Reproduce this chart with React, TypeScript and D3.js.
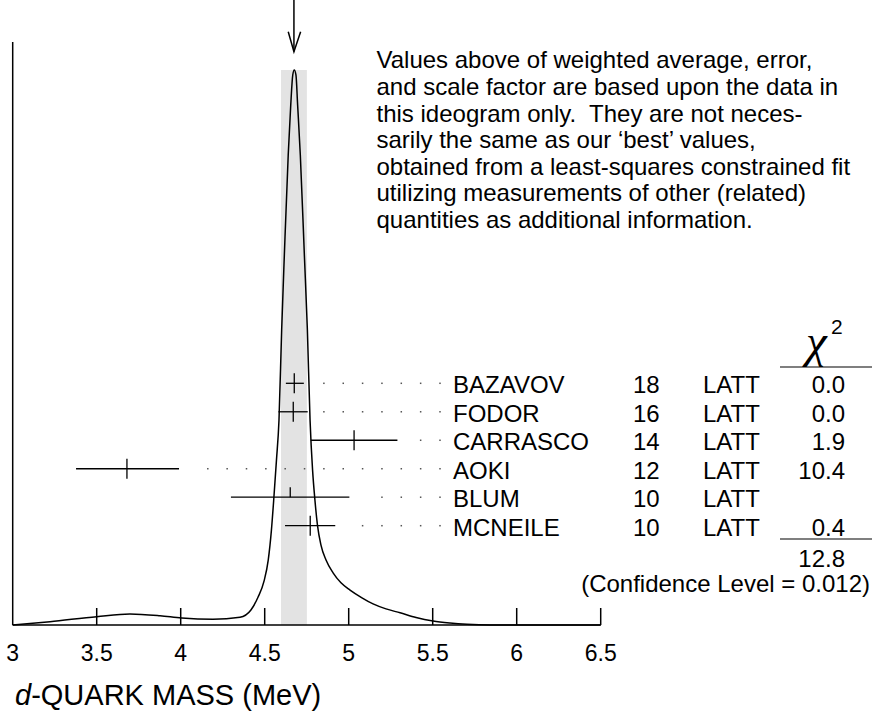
import React from 'react'
import * as d3 from 'd3'

// measurements (MeV)
const names = ['BAZAVOV', 'FODOR', 'CARRASCO', 'AOKI', 'BLUM', 'MCNEILE']
const years = ['18', '16', '14', '12', '10', '10']
const techs = ['LATT', 'LATT', 'LATT', 'LATT', 'LATT', 'LATT']
const values = [4.676, 4.670, 5.032, 3.680, 4.652, 4.771]
const errLow = [0.050, 0.088, 0.258, 0.303, 0.353, 0.150]
const errHigh = [0.057, 0.086, 0.258, 0.310, 0.352, 0.149]
const usedInFit = [true, true, true, true, false, true]
const chi2 = ['0.0', '0.0', '1.9', '10.4', '', '0.4']
const chi2Total = '12.8'
const confidence = '(Confidence Level = 0.012)'

// weighted average and its error (grey band), arrow position
const average = 4.674
const averageErr = 0.077

// ideogram curve (peak normalised to 1)
const curveX = [3.0, 3.222, 3.5, 3.698, 3.877, 4.006, 4.192, 4.353, 4.418, 4.46, 4.496, 4.521, 4.54, 4.555, 4.57, 4.585, 4.601, 4.617, 4.64, 4.655, 4.667, 4.676, 4.686, 4.696, 4.712, 4.736, 4.754, 4.77, 4.785, 4.799, 4.814, 4.835, 4.865, 4.907, 4.954, 5.008, 5.079, 5.145, 5.222, 5.306, 5.401, 5.502, 5.603, 5.704, 5.841, 6.5]
const curveY = [0, 0.006, 0.015, 0.0198, 0.0166, 0.0126, 0.0103, 0.0139, 0.027, 0.05, 0.079, 0.117, 0.171, 0.231, 0.297, 0.369, 0.532, 0.667, 0.847, 0.937, 0.991, 1.0, 0.991, 0.937, 0.847, 0.667, 0.532, 0.369, 0.279, 0.225, 0.18, 0.144, 0.117, 0.094, 0.076, 0.063, 0.049, 0.038, 0.029, 0.022, 0.0135, 0.0072, 0.0036, 0.0013, 0, 0]

const tickValues = [3, 3.5, 4, 4.5, 5, 5.5, 6, 6.5]
const tickLabels = ['3', '3.5', '4', '4.5', '5', '5.5', '6', '6.5']

const note = [
  'Values above of weighted average, error,',
  'and scale factor are based upon the data in',
  'this ideogram only.  They are not neces-',
  'sarily the same as our \u2018best\u2019 values,',
  'obtained from a least-squares constrained fit',
  'utilizing measurements of other (related)',
  'quantities as additional information.',
]

const font = '"Liberation Sans", Arial, sans-serif'

export default function App() {
  const width = 872
  const height = 727
  const x = d3.scaleLinear().domain([3, 6.5]).range([12.7, 600.7])
  const y = d3.scaleLinear().domain([0, 1]).range([625, 70])
  const row = d3.scaleLinear().domain([0, names.length - 1]).range([383.3, 525.7])

  const line = d3.line<number>()
    .x((d, i) => x(curveX[i]))
    .y((d) => y(d))
    .curve(d3.curveMonotoneX)

  const labelX = 453
  const lastDot = 440
  const dotStep = 19.35

  const dots = (i: number) => {
    const end = x(values[i] + errHigh[i])
    const out: number[] = []
    for (let k = 0; lastDot - k * dotStep > end + 14; k++) out.push(lastDot - k * dotStep)
    return out
  }

  const ax = x(average)

  return (
    <svg width={width} height={height} style={{ position: 'absolute', left: 0, top: 0, background: '#fff' }}>
      {/* grey band */}
      <rect x={x(average - averageErr)} y={y(1)} width={x(average + averageErr) - x(average - averageErr)} height={y(0) - y(1)} fill="#e3e3e3" />

      {/* arrow */}
      <g stroke="#000" strokeWidth={1.5} fill="none">
        <line x1={ax} x2={ax} y1={0} y2={51.5} />
        <polyline points={`${ax - 5.7},${31.7} ${ax},${51.7} ${ax + 6.7},${31.7}`} />
      </g>

      {/* axes */}
      <g stroke="#000" strokeWidth={1.5}>
        <line x1={x(3)} x2={x(3)} y1={42} y2={y(0)} />
        <line x1={x(3)} x2={x(6.5)} y1={y(0)} y2={y(0)} />
        {tickValues.slice(1).map((t) => (
          <line key={t} x1={x(t)} x2={x(t)} y1={y(0)} y2={y(0) - 17} />
        ))}
      </g>
      <g fontFamily={font} fontSize={23} textAnchor="middle">
        {tickValues.map((t, i) => (
          <text key={t} x={x(t)} y={661}>{tickLabels[i]}</text>
        ))}
      </g>
      <text x={15} y={705} fontFamily={font} fontSize={29}>
        <tspan fontStyle="italic">d</tspan>-QUARK MASS (MeV)
      </text>

      {/* ideogram */}
      <path d={line(curveY) || ''} fill="none" stroke="#000" strokeWidth={1.5} />

      {/* measurements */}
      {names.map((n, i) => {
        const cy = row(i)
        const cx = x(values[i])
        return (
          <g key={n}>
            <line x1={x(values[i] - errLow[i])} x2={x(values[i] + errHigh[i])} y1={cy} y2={cy} stroke="#000" strokeWidth={1.3} />
            <line x1={cx} x2={cx} y1={cy - 10} y2={usedInFit[i] ? cy + 10 : cy} stroke="#000" strokeWidth={1.3} />
            {dots(i).map((dx) => (
              <rect key={dx} x={dx - 0.75} y={cy - 0.75} width={1.5} height={1.5} fill="#555" />
            ))}
            <g fontFamily={font} fontSize={24}>
              <text x={labelX} y={cy + 10}>{n}</text>
              <text x={633} y={cy + 10}>{years[i]}</text>
              <text x={703} y={cy + 10}>{techs[i]}</text>
              <text x={845} y={cy + 10} textAnchor="end">{chi2[i]}</text>
            </g>
          </g>
        )
      })}

      {/* chi-square column */}
      <text x={806} y={357} fontFamily='"Liberation Serif", serif' fontStyle="italic" fontSize={47}>χ</text>
      <text x={831} y={334} fontFamily={font} fontSize={21}>2</text>
      <line x1={780} x2={872} y1={367} y2={367} stroke="#000" strokeWidth={1.2} />
      <line x1={780} x2={872} y1={539} y2={539} stroke="#000" strokeWidth={1.2} />
      <g fontFamily={font} fontSize={24}>
        <text x={845} y={566.5} textAnchor="end">{chi2Total}</text>
        <text x={870} y={592} textAnchor="end">{confidence}</text>
      </g>

      {/* note */}
      <g fontFamily={font} fontSize={24}>
        {note.map((s, i) => (
          <text key={i} x={376.5} y={68.4 + i * 26.6} style={{ whiteSpace: 'pre' }}>{s}</text>
        ))}
      </g>
    </svg>
  )
}
